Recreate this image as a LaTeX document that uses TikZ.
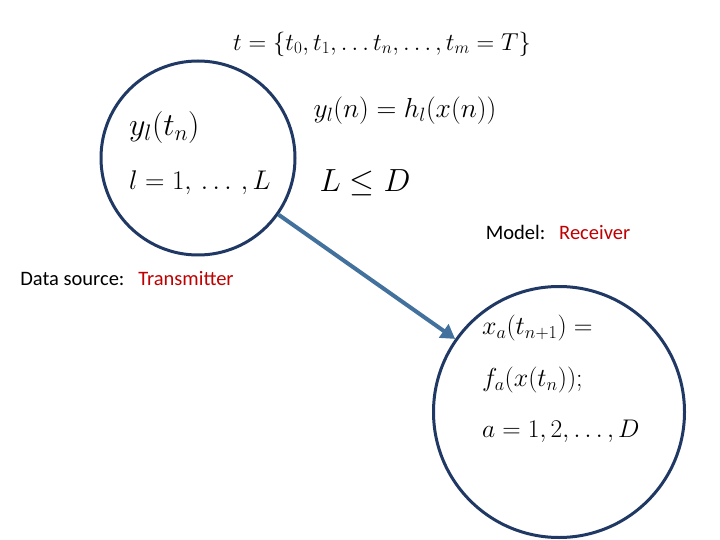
\RequirePackage{fix-cm}
\documentclass[tikz,border=0pt]{standalone}
\usepackage{fontspec}
\setmainfont{Carlito}
\usepackage{amssymb}
\usepackage{amsmath}
\usetikzlibrary{arrows.meta}
\definecolor{navy}{HTML}{1F3864}
\definecolor{steel}{HTML}{41719C}
\definecolor{redtxt}{HTML}{C00000}
\tikzstyle{every picture}+=[x=1pt,y=-1pt]
\tikzstyle{every picture}+=[join=round]
\tikzstyle{unit}=[circle,draw=navy,line width=3pt,inner sep=0pt]
\tikzstyle{link}=[draw=steel,line width=4pt,-{Triangle[length=14pt,width=16pt]}]
\tikzstyle{eq}=[inner sep=0pt,anchor=west]
\tikzstyle{tag}=[inner sep=0pt,font=\fontsize{20.5}{24}\selectfont]

\begin{document}
\begin{tikzpicture}
\useasboundingbox[fill=white] (0,0) rectangle (720,540);

% the two units
\node[unit,minimum size=194pt] (src) at (198,158) {};
\node[unit,minimum size=251pt] (rcv) at (559,412) {};

\draw[link] (src) -- (rcv);

% formulas
\node[inner sep=0pt] (tset) at (382,44) {\fontsize{24.5}{28}\selectfont $t=\left\{t_0,t_1,\dots t_n,\dots,t_m=T\right\}$};
\node[inner sep=0pt] (obs) at (405,111) {\fontsize{27.5}{32}\selectfont $y_l(n)=h_l(x(n))$};
\node[inner sep=0pt] (dim) at (365,183) {\fontsize{32}{38}\selectfont $L\leq D$};

\node[eq] (yl) at (129,128) {\fontsize{32}{38}\selectfont $y_l(t_n)$};
\node[eq] (lrange) at (129,183) {\fontsize{27}{32}\selectfont $l=1,\,\dots\,,L$};

\node[eq] (xa) at (482,328) {\fontsize{26}{31}\selectfont $x_a(t_{n+1})=$};
\node[eq] (fa) at (482,380) {\fontsize{26}{31}\selectfont $f_a(x(t_n));$};
\node[eq] (arange) at (482,431) {\fontsize{25.5}{30}\selectfont $a=1,2,\dots,D$};

% labels
\node[tag] (mlab) at (558,232) {Model:\ \ \ \textcolor{redtxt}{Receiver}};
\node[tag] (dlab) at (127,279) {Data source:\ \ \ \textcolor{redtxt}{Transmitter}};
\end{tikzpicture}
\end{document}
